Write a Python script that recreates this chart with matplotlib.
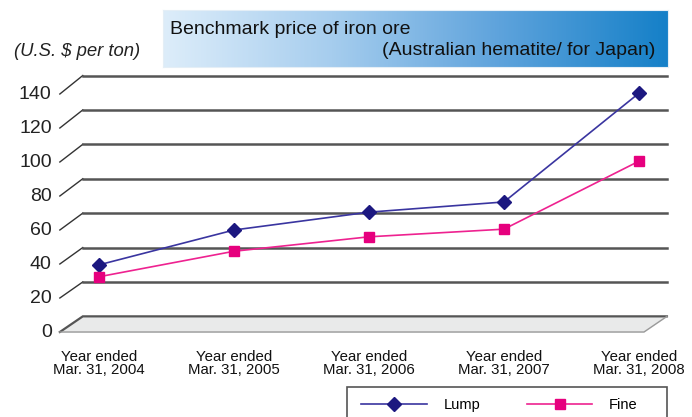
import numpy as np
import matplotlib
matplotlib.use("Agg")
import matplotlib.pyplot as plt
from matplotlib.colors import LinearSegmentedColormap
from matplotlib.lines import Line2D
from matplotlib.patches import Rectangle

plt.rcParams['font.family'] = ['Liberation Sans', 'DejaVu Sans']

# data (U.S. $ per ton)
years = ["Year ended\nMar. 31, 2004", "Year ended\nMar. 31, 2005", "Year ended\nMar. 31, 2006",
         "Year ended\nMar. 31, 2007", "Year ended\nMar. 31, 2008"]
lump = [39.5, 60.0, 70.5, 76.5, 140.5]
fine = [32.5, 47.5, 56.0, 60.5, 100.5]
yticks = [0, 20, 40, 60, 80, 100, 120, 140]

W, H = 692, 417
fig = plt.figure(figsize=(W / 100, H / 100), dpi=100)
ax = fig.add_axes([0, 0, 1, 1])
ax.set_xlim(-0.7333, 4.3926)
ax.set_ylim(-50, 195.3)
ax.axis('off')

# fake 3D depth of the plot area
dx = 0.17
x_front, x_right = -0.29, 4.207


def back(v):
    return v * 1.012 + 9.2


# floor
b0 = back(0)
floor_x = [x_front, x_front + dx, x_right, x_right - dx]
floor_y = [0, b0, b0, 0]
ax.fill(floor_x, floor_y, color='#e9eaea', zorder=1)
ax.plot([x_front, x_front + dx, x_right], [0, b0, b0], color='#555555', lw=1.6, zorder=2,
        solid_joinstyle='miter')
ax.plot([x_right, x_right - dx, x_front], [b0, 0, 0], color='#9a9a9a', lw=1.0, zorder=2)

# gridlines on the back wall with the slanted side wall
for v in yticks[1:]:
    ax.plot([x_front, x_front + dx], [v, back(v)], color='#333333', lw=1.0, zorder=2)
    ax.plot([x_front + dx, x_right], [back(v), back(v)], color='#555555', lw=1.8, zorder=2)

for v in yticks:
    ax.text(-0.35, v, str(v), ha='right', va='center', fontsize=14, color='#222222')

x = np.arange(len(years))
ax.plot(x, lump, color='#3a35a0', lw=1.2, marker='D', ms=7.5, mfc='#1c1880', mec='#1c1880',
        zorder=4)
ax.plot(x, fine, color='#ee2290', lw=1.2, marker='s', ms=7, mfc='#e6007e', mec='#e6007e',
        zorder=4)

for i, lab in enumerate(years):
    ax.text(i, -10.5, lab, ha='center', va='top', fontsize=10.8, linespacing=0.9,
            color='#111111')

# title box with gradient
tax = fig.add_axes([163 / W, 1 - 67 / H, (668 - 163) / W, 57 / H])
cmap = LinearSegmentedColormap.from_list('t', ['#ddedfa', '#a6cdee', '#5ea3dc', '#1580c8'])
tax.imshow(np.linspace(0, 1, 256)[None, :], aspect='auto', cmap=cmap, extent=[0, 1, 0, 1])
tax.set_xticks([])
tax.set_yticks([])
for s in tax.spines.values():
    s.set_color('#e4eef6')

fig.text(170 / W, 1 - 34 / H, "Benchmark price of iron ore", fontsize=14, va='baseline',
         ha='left', color='#111111')
fig.text(655 / W, 1 - 55 / H, "(Australian hematite/ for Japan)", fontsize=14, va='baseline',
         ha='right', color='#111111')
fig.text(14 / W, 1 - 56 / H, "(U.S. $ per ton)", fontsize=13.3, style='italic', va='baseline',
         ha='left', color='#222222')

# legend box, cut by the bottom edge like the original
fig.patches.append(Rectangle((347 / W, -0.05), (667 - 347) / W, 0.05 + 1 - 387 / H,
                             transform=fig.transFigure, fill=False, ec='#555555', lw=1.2))
handles = [Line2D([], [], color='#3a35a0', lw=1.2, marker='D', ms=7.5, mfc='#1c1880', mec='#1c1880'),
           Line2D([], [], color='#ee2290', lw=1.2, marker='s', ms=7, mfc='#e6007e', mec='#e6007e')]
leg = fig.legend(handles, ['Lump', 'Fine'], loc='upper left',
                 bbox_to_anchor=(361 / W, 1 - 398 / H),
                 ncol=2, fontsize=10.5, frameon=False, borderpad=0,
                 handlelength=4.5, handletextpad=1.15, columnspacing=3.2, borderaxespad=0)

fig.savefig('out.png', dpi=100)
